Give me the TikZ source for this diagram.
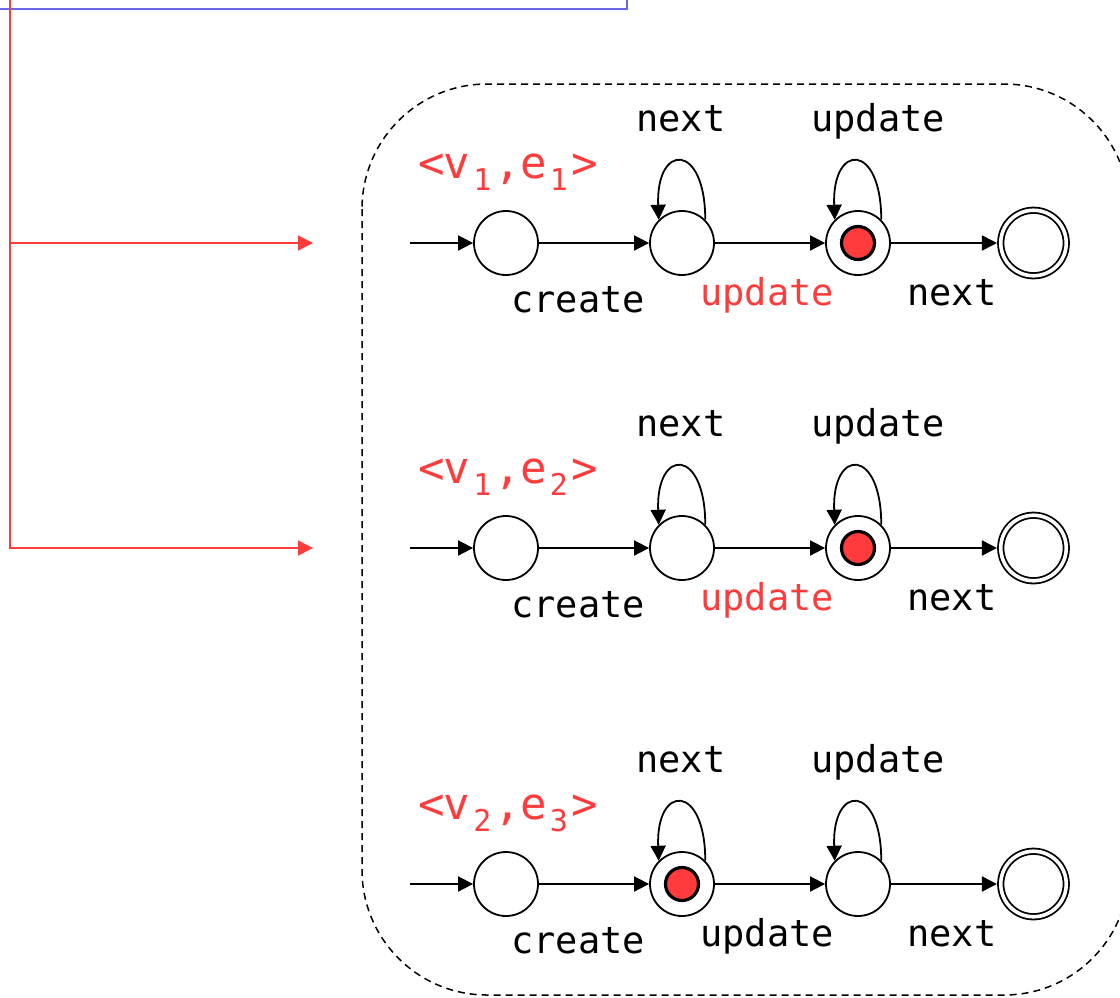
\documentclass[tikz,border=0pt]{standalone}
\usepackage{fontspec}
\setmonofont{DejaVu Sans Mono}
\usetikzlibrary{arrows.meta}
\definecolor{hot}{RGB}{255,59,59}
\definecolor{wire}{RGB}{104,104,232}

% one evenly spaced character cell of a binding label
\newcommand\cell[1]{\makebox[25.5pt][c]{#1}}
% subscript cell inside a binding label
\newcommand\bsub[1]{\cell{\raisebox{-12pt}{\fontsize{30}{30}\selectfont #1}}}
% binding label <v_i,e_j>
\newcommand\binding[2]{\cell{<}\cell{v}\bsub{#1}\cell{,}\cell{e}\bsub{#2}\cell{>}}

\tikzset{
  st/.style={circle, draw, line width=1.8pt, minimum size=64pt, inner sep=0pt, fill=white},
  fin/.style={circle, draw, line width=1.8pt, double, double distance=3.6pt,
              minimum size=65.5pt, inner sep=0pt, outer sep=3.8pt, fill=white},
  tok/.style={circle, draw, line width=3.2pt, fill=hot, minimum size=33pt, inner sep=0pt},
  edge/.style={line width=1.8pt, -{Triangle[length=15pt,width=15pt]}},
  bus/.style={hot, line width=1.6pt},
  lbl/.style={inner sep=0pt, anchor=base west, font=\fontsize{37}{37}\selectfont\ttfamily},
  tuple/.style={inner sep=0pt, anchor=base west, text=hot, font=\fontsize{44}{44}\selectfont\ttfamily},
}

% one property automaton: #1 prefix, #2 row y, #3 vertex index, #4 edge index,
% #5 state holding the token (b or c), #6 colour of the middle transition label
\newcommand\automaton[6]{%
  \node[st]  (#1a) at (506,#2) {};
  \node[st]  (#1b) at (682,#2) {};
  \node[st]  (#1c) at (858,#2) {};
  \node[fin] (#1d) at (1033.5,#2) {};
  \node[tok] (#1tok) at (#1#5) {};
  \coordinate (#1in) at (410,#2);
  \draw[edge] (#1in) -- (#1a);
  \draw[edge] (#1a) -- (#1b);
  \draw[edge] (#1b) -- (#1c);
  \draw[edge] (#1c) -- (#1d);
  \draw[edge] (#1b.45) .. controls +(0,-78) and +(-3,-77) .. (#1b.135);
  \draw[edge] (#1c.45) .. controls +(0,-78) and +(-3,-77) .. (#1c.135);
  \node[tuple] (#1name) at (418.5,#2-65) {\binding{#3}{#4}};
  \node[lbl] (#1loopb) at (636,#2-112) {next};
  \node[lbl] (#1loopc) at (811,#2-112) {update};
  \node[lbl] (#1ab) at (511,#2+69) {create};
  \node[lbl, text=#6] (#1bc) at (700,#2+62) {update};
  \node[lbl] (#1cd) at (907,#2+62) {next};
}

\begin{document}
\begin{tikzpicture}[x=1pt, y=-1pt]
  \useasboundingbox (0,0) rectangle (1120,997);

  % edge of the enclosing block above
  \coordinate (blkL) at (0,9);
  \coordinate (blkC) at (627,9);
  \coordinate (blkT) at (627,0);
  \draw[wire, line width=1.8pt] (blkL) -- (blkC) -- (blkT);

  % red dispatch bus
  \coordinate (busTop) at (10,0);
  \coordinate (tap1) at (10,243);
  \coordinate (tgt1) at (313,243);
  \coordinate (tgt2) at (313,548);
  \draw[bus, -{Triangle[length=15pt,width=15pt]}] (busTop) |- (tgt2);
  \draw[bus, -{Triangle[length=15pt,width=15pt]}] (tap1) -- (tgt1);

  % dashed container
  \draw[line width=1.5pt, dash pattern=on 7pt off 5pt, rounded corners=125pt]
    (362,84) rectangle (1129,995);

  \automaton{r1}{243}{1}{1}{c}{hot}
  \automaton{r2}{548}{1}{2}{c}{hot}
  \automaton{r3}{884}{2}{3}{b}{black}
\end{tikzpicture}
\end{document}
